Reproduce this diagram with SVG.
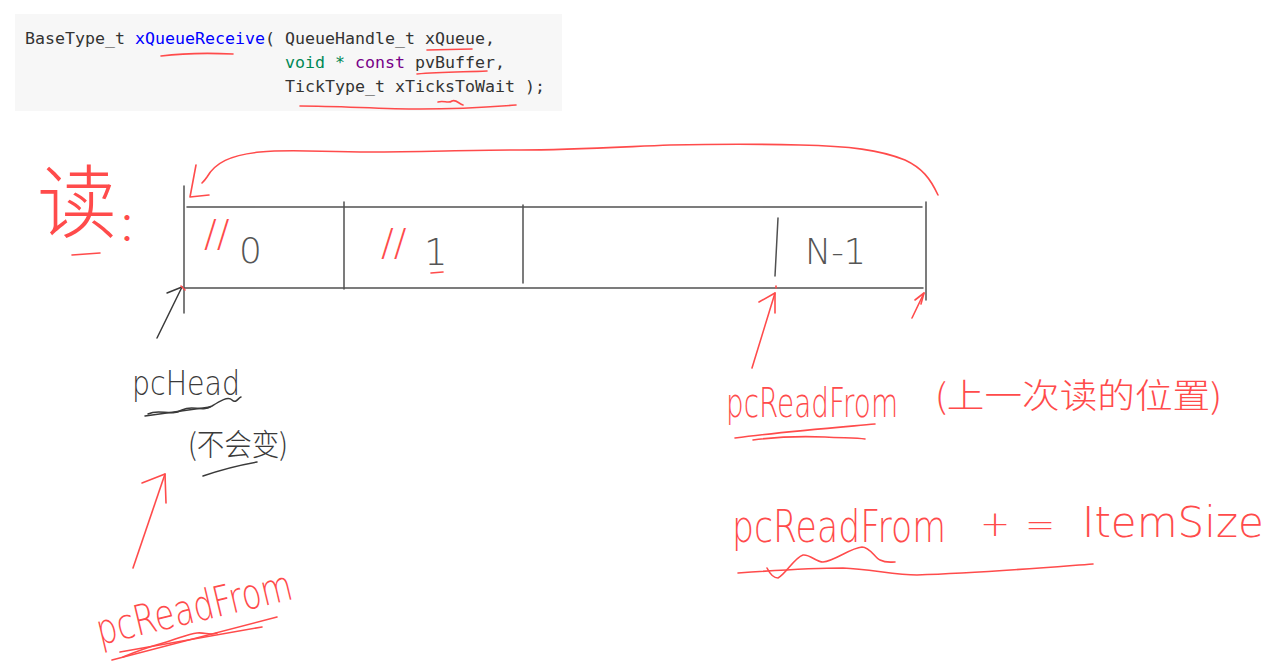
<svg xmlns="http://www.w3.org/2000/svg" width="1279" height="672" viewBox="0 0 1279 672">
<style>
.code{font-family:"DejaVu Sans Mono","Liberation Mono",monospace;font-size:16.6px;fill:#333}
.def{fill:#0000ff}.typ{fill:#008855}.kw{fill:#770088}
.hw{font-family:"DejaVu Sans","Liberation Sans",sans-serif;font-weight:200}
.hwc{font-family:"Noto Sans CJK SC","Liberation Sans",sans-serif;font-weight:300}
.red{fill:#ff4b4b}.blk{fill:#3a3a3a}.gry{fill:#555}
.rs{fill:none;stroke:#ff4b4b;stroke-width:1.6;stroke-linecap:round;stroke-linejoin:round}
.ks{fill:none;stroke:#3a3a3a;stroke-width:1.5;stroke-linecap:round;stroke-linejoin:round}
.box{fill:none;stroke:#505050;stroke-width:1.5;stroke-linecap:round}
</style>
<rect width="1279" height="672" fill="#ffffff"/>

<g id="code">
<rect x="15" y="14" width="547" height="97" fill="#f7f7f7"/>
<text class="code" y="44"><tspan x="25">BaseType_t</tspan><tspan x="135" class="def">xQueueReceive</tspan><tspan x="265">(</tspan><tspan x="285">QueueHandle_t</tspan><tspan x="425">xQueue,</tspan></text>
<text class="code" y="68"><tspan x="285" class="typ">void</tspan><tspan x="335" class="typ">*</tspan><tspan x="355" class="kw">const</tspan><tspan x="415">pvBuffer,</tspan></text>
<text class="code" y="92"><tspan x="285">TickType_t</tspan><tspan x="395">xTicksToWait</tspan><tspan x="525">);</tspan></text>
<path class="rs" d="M161,56 C185,53 210,53 233,54"/>
<path class="rs" d="M427,50 L472,49"/>
<path class="rs" d="M417,74 C440,72 465,72 487,71"/>
<path class="rs" d="M300,106 C340,106 380,109 420,109 C460,109 490,107 516,105"/>
<path class="rs" d="M438,102 C444,100 448,104 452,101 C456,99 459,104 463,105"/>
</g>

<g id="read-title">
<text class="hwc red" x="37" y="231" font-size="80">读<tspan font-size="40" dy="9">：</tspan></text>
<path class="rs" d="M72,255 L100,253"/>
</g>

<g id="queue">
<path class="box" d="M184,186 L184,313"/>
<path class="box" d="M187,207 L922,207"/>
<path class="box" d="M184,288 L923,288"/>
<path class="box" d="M344,202 L344,289"/>
<path class="box" d="M523,205 L523,283"/>
<path class="box" d="M926,202 L926,300"/>
<path class="box" d="M778,218 L775,276"/>
</g>

<g id="slot-0">
<text class="hw red" x="204" y="246" font-size="38">//</text>
<text class="hw gry" x="239" y="263" font-size="36">0</text>
</g>

<g id="slot-1">
<text class="hw red" x="381" y="255" font-size="38">//</text>
<text class="hw gry" x="424" y="265" font-size="37">1</text>
<path class="rs" d="M431,273 L443,272"/>
</g>

<g id="slot-n">
<text class="hw gry" x="805" y="264" font-size="35">N-1</text>
</g>

<g id="pchead">
<text class="hw blk" transform="translate(132,395) scale(0.84,1)" font-size="34" textLength="128.6" lengthAdjust="spacingAndGlyphs">pcHead</text>
<path class="ks" d="M145,416 L210,407"/>
<path class="ks" d="M148,414 C160,408 170,417 182,410 C194,404 200,413 212,406 C220,401 228,396 232,400 C236,404 238,398 241,397"/>
<text class="hwc blk" x="188" y="455" font-size="30" textLength="100" lengthAdjust="spacingAndGlyphs">(不会变)</text>
<path class="ks" d="M203,476 C220,470 240,465 257,462"/>
</g>

<g id="pcreadfrom-start">
<text class="hw red" transform="rotate(-13.4 100 645) translate(100,645) scale(0.755,1)" font-size="42" textLength="265" lengthAdjust="spacingAndGlyphs">pcReadFrom</text>
<path class="rs" d="M112,660 L277,617"/>
<path class="rs" d="M120,652 L262,627"/>
<path class="rs" d="M123,657 C135,652 145,648 163,643 C180,638 188,634 197,633 C205,632 210,636 217,633"/>
</g>

<g id="pcreadfrom-last">
<text class="hw red" transform="translate(726,417) scale(0.68,1)" font-size="40" textLength="253" lengthAdjust="spacingAndGlyphs">pcReadFrom</text>
<path class="rs" d="M735,438 C780,432 830,428 875,424"/>
<path class="rs" d="M753,440 C775,437 800,436 825,437 C845,438 857,438 865,439"/>
<text class="hwc red" x="935" y="408" font-size="34" textLength="287" lengthAdjust="spacingAndGlyphs">(上一次读的位置)</text>
</g>

<g id="increment">
<text class="hw red" transform="translate(732,542) scale(0.77,1)" font-size="44" textLength="278" lengthAdjust="spacingAndGlyphs">pcReadFrom</text>
<text class="hw red" x="980" y="536" font-size="36">+</text>
<text class="hw red" x="1025" y="537" font-size="36">=</text>
<text class="hw red" x="1082" y="537" font-size="42">ItemSize</text>
<path class="rs" d="M738,573 C780,570 810,568 843,568 C870,569 895,575 917,575 C980,573 1040,568 1093,564"/>
<path class="rs" d="M767,568 C770,574 774,578 778,578 C786,574 794,558 803,555 C810,554 816,562 823,562 C835,561 850,548 862,547 C870,547 875,558 880,560 C886,563 890,562 895,562"/>
</g>

<g id="connectors">
<path class="rs" d="M938,195 C930,178 922,168 905,160 C880,150 850,146 800,145 C760,144 720,144 670,145 C620,147 570,150 520,150 C470,150 420,152 370,152 C320,152 290,149 260,152 C230,155 215,163 207,177 C205,180 203,182 202,183"/>
<path class="rs" d="M196,165 L190,197 L209,195"/>
<path class="ks" d="M157,338 L182,287"/>
<path class="ks" d="M167,293 L182,287"/>
<path class="rs" d="M181,286 L185,290"/>
<path class="rs" d="M133,568 L165,474"/>
<path class="rs" d="M142,483 L165,474 L166,503"/>
<path class="rs" d="M752,368 L775,293"/>
<path class="rs" d="M759,302 L775,293 L775,313"/>
<path class="rs" d="M776,286 L776,288"/>
<path class="rs" d="M912,318 L924,293"/>
<path class="rs" d="M915,300 L924,293 L921,304"/>
</g>
</svg>
